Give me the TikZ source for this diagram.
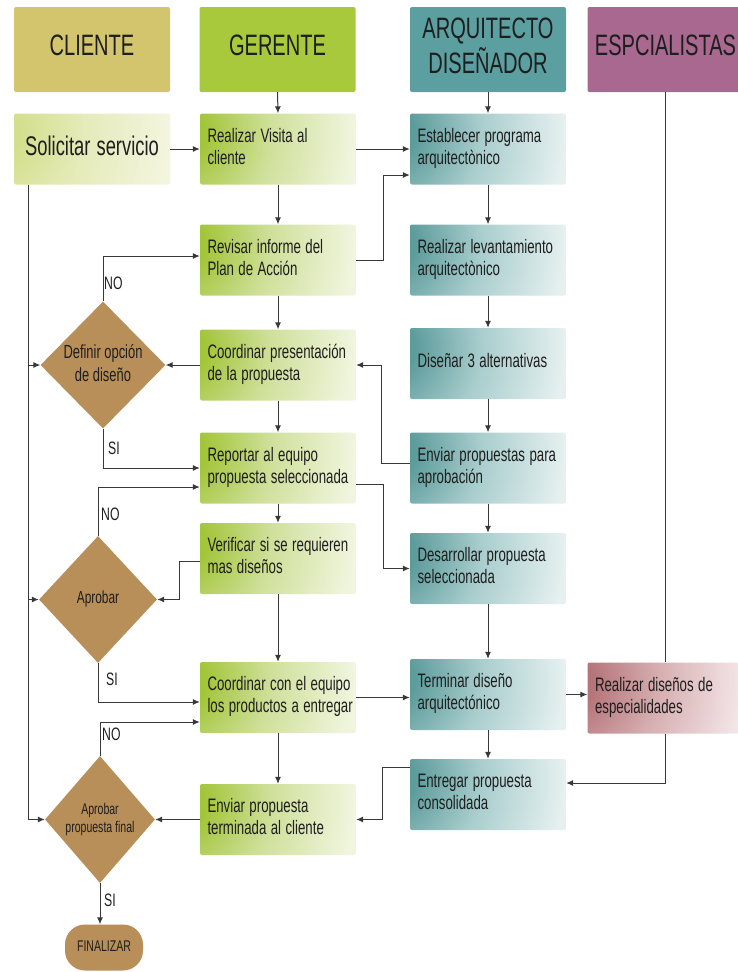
\documentclass[tikz,border=0pt]{standalone}
\usepackage{fontspec}
\usepackage{graphicx}
\setmainfont{Liberation Sans}
\usetikzlibrary{arrows.meta,shapes.geometric}

% condensed text block: lines set in a tabular, squeezed horizontally
\newcommand\sq[2][l]{\scalebox{0.68}[1]{\begin{tabular}{@{}#1@{}}#2\end{tabular}}}

% lane header colours
\definecolor{hCl}{HTML}{D3C56D}
\definecolor{hGe}{HTML}{A7C93B}
\definecolor{hAr}{HTML}{5C9FA1}
\definecolor{hEs}{HTML}{A8688F}
% activity box gradients (corner, middle, far side)
\definecolor{gA}{HTML}{A3C53A}
\definecolor{gB}{HTML}{CFE09A}
\definecolor{gC}{HTML}{F1F5DF}
\definecolor{sA}{HTML}{D3DF8C}
\definecolor{sB}{HTML}{E5EBBA}
\definecolor{sC}{HTML}{F3F5DE}
\definecolor{tA}{HTML}{5E9C9C}
\definecolor{tB}{HTML}{A9CDCD}
\definecolor{tC}{HTML}{E6F0F0}
\definecolor{mA}{HTML}{B57479}
\definecolor{mB}{HTML}{D6AEB1}
\definecolor{mC}{HTML}{F4E6E8}
% decisions, text and lines
\definecolor{tan}{HTML}{B98F59}
\definecolor{ink}{HTML}{1E1E1E}
\definecolor{wire}{HTML}{383838}

% radial fades spreading from the upper left corner of a box
\pgfdeclareradialshading{fadeG}{\pgfpoint{0bp}{0bp}}{color(0bp)=(gA); color(2.5bp)=(gA); color(8bp)=(gB); color(15bp)=(gC); color(50bp)=(gC)}
\pgfdeclareradialshading{fadeS}{\pgfpoint{0bp}{0bp}}{color(0bp)=(sA); color(2.5bp)=(sA); color(8bp)=(sB); color(15bp)=(sC); color(50bp)=(sC)}
\pgfdeclareradialshading{fadeT}{\pgfpoint{0bp}{0bp}}{color(0bp)=(tA); color(2.5bp)=(tA); color(8bp)=(tB); color(15bp)=(tC); color(50bp)=(tC)}
\pgfdeclareradialshading{fadeM}{\pgfpoint{0bp}{0bp}}{color(0bp)=(mA); color(2.5bp)=(mA); color(8bp)=(mB); color(15bp)=(mC); color(50bp)=(mC)}

\begin{document}
\begin{tikzpicture}[x=1pt,y=-1pt,
  hdr/.style={rectangle, rounded corners=2pt, minimum width=156pt,
    minimum height=85pt, inner sep=0pt, text=ink,
    font=\fontsize{29.5}{32}\selectfont},
  box/.style={rectangle, rounded corners=2pt, text width=141pt,
    inner xsep=7.5pt, inner ysep=0pt, minimum height=71pt, align=left,
    text=ink, font=\fontsize{19.5}{22}\selectfont,
    path picture={\shade[shading=#1]
      ([xshift=-25pt,yshift=-20pt]path picture bounding box.north west)
      circle (300pt);}},
  gbox/.style={box=fadeG},
  tbox/.style={box=fadeT},
  mbox/.style={box=fadeM},
  sbox/.style={box=fadeS, align=center, font=\fontsize{27}{30}\selectfont},
  dec/.style={diamond, fill=tan, inner sep=0pt, text=ink},
  lbl/.style={inner sep=0pt, text=ink, font=\fontsize{18}{20}\selectfont},
  flow/.style={draw=wire, line width=1pt, -{Latex[length=7pt,width=6pt]}},
  wire/.style={draw=wire, line width=1pt}]

\useasboundingbox (0,0) rectangle (738,972);

% lane headers
\node[hdr, fill=hCl] (hCl) at (92,49.5) {\sq[c]{CLIENTE}};
\node[hdr, fill=hGe] (hGe) at (277.5,49.5) {\sq[c]{GERENTE}};
\node[hdr, fill=hAr] (hAr) at (488,49.5) {\sq[c]{ARQUITECTO\\DISEÑADOR}};
\node[hdr, fill=hEs] (hEs) at (665.5,49.5) {\sq[c]{ESPCIALISTAS}};

% client lane
\node[sbox] (sol) at (92,149) {\sq[c]{Solicitar servicio}};

% manager lane
\node[gbox] (vis) at (278,149) {\sq{Realizar Visita al\\cliente}};
\node[gbox] (rev) at (278,260) {\sq{Revisar informe del\\Plan de Acción}};
\node[gbox] (cpr) at (278,365) {\sq{Coordinar presentación\\de la propuesta}};
\node[gbox] (rep) at (278,468) {\sq{Reportar al equipo\\propuesta seleccionada}};
\node[gbox] (ver) at (278,558.5) {\sq{Verificar si se requieren\\mas diseños}};
\node[gbox] (cce) at (278,697.5) {\sq{Coordinar con el equipo\\los productos a entregar}};
\node[gbox] (env) at (278,819.5) {\sq{Enviar propuesta\\terminada al cliente}};

% architect lane
\node[tbox] (est) at (488,149) {\sq{Establecer programa\\arquitectònico}};
\node[tbox] (lev) at (488,260) {\sq{Realizar levantamiento\\arquitectònico}};
\node[tbox] (dis) at (488,363.5) {\raisebox{5pt}{\sq{Diseñar 3 alternativas}}};
\node[tbox] (epa) at (488,468) {\sq{Enviar propuestas para\\aprobación}};
\node[tbox] (des) at (488,568.5) {\sq{Desarrollar propuesta\\seleccionada}};
\node[tbox] (ter) at (488,694.5) {\sq{Terminar diseño\\arquitectónico}};
\node[tbox] (ent) at (488,794.5) {\sq{Entregar propuesta\\consolidada}};

% specialists lane
\node[mbox] (esp) at (665.5,698) {\sq{Realizar diseños de\\especialidades}};

% decisions
\node[dec, minimum width=120pt, minimum height=127pt,
  font=\fontsize{19}{23}\selectfont] (def) at (103,365) {\sq[c]{Definir opción\\de diseño}};
\node[dec, minimum width=118pt, minimum height=127pt,
  font=\fontsize{17.5}{20}\selectfont] (apr) at (98,599.5) {\sq[c]{Aprobar}};
\node[dec, minimum width=110pt, minimum height=127pt,
  font=\fontsize{15.5}{18}\selectfont] (fin) at (100,819.5) {\sq[c]{Aprobar\\propuesta final}};
\node[rectangle, rounded corners=20pt, fill=tan, minimum width=78pt,
  minimum height=46pt, inner sep=0pt, text=ink,
  font=\fontsize{15.5}{18}\selectfont] (fz) at (104,947.5) {\sq[c]{FINALIZAR}};

% straight flows
\draw[flow] (hGe.south) -- (vis.north);
\draw[flow] (hAr.south) -- (est.north);
\draw[flow] (sol.east) -- (vis.west);
\draw[flow] (vis.east) -- (est.west);
\draw[flow] (vis.south) -- (rev.north);
\draw[flow] (rev.south) -- (cpr.north);
\draw[flow] (cpr.south) -- (rep.north);
\draw[flow] (rep.south) -- (ver.north);
\draw[flow] (ver.south) -- (cce.north);
\draw[flow] (cce.south) -- (env.north);
\draw[flow] (est.south) -- (lev.north);
\draw[flow] (lev.south) -- (dis.north);
\draw[flow] (dis.south) -- (epa.north);
\draw[flow] (epa.south) -- (des.north);
\draw[flow] (des.south) -- (ter.north);
\draw[flow] (ter.south) -- (ent.north);
\draw[flow] (cpr.west) -- (def.east);
\draw[flow] (env.west) -- (fin.east);
\draw[flow] (cce.east) -- (cce.east -| ter.west);
\draw[flow] (ter.east) -- (ter.east -| esp.west);
\draw[flow] (fin.south) -- (fin.south |- fz.north);
\draw[wire] (hEs.south) -- (esp.north);

% elbow flows
\draw[flow] (rev.east) -- ++(27,0) |- ([yshift=-26pt]est.west);
\draw[flow] ([yshift=5pt]epa.west) -- ++(-28,0) |- (cpr.east);
\draw[flow] ([yshift=-16pt]rep.east) -- ++(27,0) |- (des.west);
\draw[flow] ([yshift=-2.5pt]ver.west) -- ++(-20,0) |- (apr.east);
\draw[flow] ([yshift=27.5pt]ent.west) -- ++(-27,0) |- (env.east);
\draw[flow] (esp.south) |- ([yshift=11.5pt]ent.east);

% decision outcomes
\draw[flow] (def.north) |- ([yshift=4pt]rev.west);
\draw[flow] (def.south) |- (rep.west);
\draw[flow] (apr.north) |- ([yshift=-19pt]rep.west);
\draw[flow] (apr.south) |- ([yshift=-4.5pt]cce.west);
\draw[flow] (fin.north) |- ([yshift=-24.5pt]cce.west);

% client trunk line feeding every decision
\coordinate (trunk) at ([xshift=-64pt]sol.south);
\draw[flow] (trunk) |- (fin.west);
\draw[flow] (trunk |- def.west) -- (def.west);
\draw[flow] (trunk |- apr.west) -- (apr.west);

% branch labels
\node[lbl, anchor=south west] (no1) at (104,296) {\sq{NO}};
\node[lbl, anchor=south west] (si1) at (108,461) {\sq{SI}};
\node[lbl, anchor=south west] (no2) at (101,527) {\sq{NO}};
\node[lbl, anchor=south west] (si2) at (106,692) {\sq{SI}};
\node[lbl, anchor=south west] (no3) at (102,747) {\sq{NO}};
\node[lbl, anchor=south west] (si3) at (104,913) {\sq{SI}};
\end{tikzpicture}
\end{document}
